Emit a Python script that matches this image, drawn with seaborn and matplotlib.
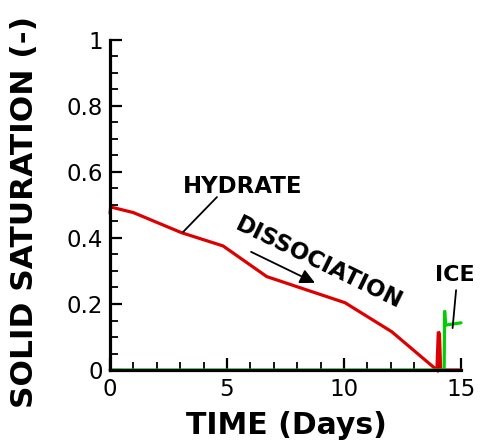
import matplotlib
matplotlib.use("Agg")
import matplotlib.pyplot as plt
from matplotlib.ticker import MultipleLocator
import numpy as np
import pandas as pd
import seaborn as sns

# Hydrate saturation over time (days)
hydrate_time = [0.0, 0.03, 1.0, 3.06, 4.83, 6.7, 10.04, 12.04, 13.97, 14.03, 14.08, 14.13, 15.0]
hydrate_sat = [0.475, 0.494, 0.477, 0.416, 0.376, 0.283, 0.204, 0.116, 0.0, 0.116, 0.11, 0.0, 0.0]

# Ice saturation over time (days)
ice_time = [0.0, 14.28, 14.30, 14.34, 15.0]
ice_sat = [0.0, 0.0, 0.18, 0.136, 0.143]

x_ticks = [0, 5, 10, 15]
y_ticks = [0, 0.2, 0.4, 0.6, 0.8, 1]
y_tick_labels = ["0", "0.2", "0.4", "0.6", "0.8", "1"]

df = pd.concat([
    pd.DataFrame({"time": hydrate_time, "sat": hydrate_sat, "phase": "HYDRATE"}),
    pd.DataFrame({"time": ice_time, "sat": ice_sat, "phase": "ICE"}),
], ignore_index=True)

sns.set_theme(style="ticks")
plt.rcParams["font.family"] = ["DejaVu Sans"]
plt.rcParams.update({
    "text.color": "black",
    "axes.labelcolor": "black",
    "xtick.color": "black",
    "ytick.color": "black",
})

fig = plt.figure(figsize=(4.82, 4.48), dpi=100)
ax = fig.add_axes([110 / 482, 78 / 448, 351 / 482, 330 / 448])

sns.lineplot(data=df, x="time", y="sat", hue="phase",
             palette={"HYDRATE": "#dd0000", "ICE": "#00d000"},
             estimator=None, sort=False, legend=False, linewidth=2.3, ax=ax)
for ln in ax.lines:
    ln.set_clip_on(False)
    ln.set_solid_joinstyle("miter")

ax.set_xlim(0, 15)
ax.set_ylim(0, 1)
ax.set_xticks(x_ticks)
ax.set_xticklabels([str(v) for v in x_ticks])
ax.set_yticks(y_ticks)
ax.set_yticklabels(y_tick_labels)
ax.xaxis.set_minor_locator(MultipleLocator(1))
ax.yaxis.set_minor_locator(MultipleLocator(0.05))

for side in ("top", "right"):
    ax.spines[side].set_visible(False)
for side in ("left", "bottom"):
    ax.spines[side].set_linewidth(2.3)
    ax.spines[side].set_color("black")

ax.tick_params(which="major", direction="in", length=8.5, width=1.6,
               color="black", labelsize=16.5, labelcolor="black")
ax.tick_params(which="minor", direction="in", length=5.5, width=1.3, color="black")
ax.tick_params(axis="x", which="major", pad=6)
ax.tick_params(axis="y", which="major", pad=5)

ax.set_xlabel("TIME (Days)", fontsize=21.5, fontweight="bold", va="center", color="black")
ax.set_ylabel("SOLID SATURATION (-)", fontsize=22.5, fontweight="bold", va="center", color="black")
ax.xaxis.set_label_coords(0.504, -0.168)
ax.yaxis.set_label_coords(-0.245, 0.479)

# Annotations
ax.text(5.68, 0.555, "HYDRATE", fontsize=16.5, fontweight="bold",
        ha="center", va="center", color="black")
ax.annotate("", xy=(3.12, 0.418), xytext=(4.57, 0.524),
            arrowprops=dict(arrowstyle="-", color="black", lw=1.3,
                            shrinkA=0, shrinkB=0))

ax.text(8.93, 0.324, "DISSOCIATION", fontsize=16.5, fontweight="bold",
        ha="center", va="center", rotation=-26, rotation_mode="anchor", color="black")
ax.annotate("", xy=(8.76, 0.264), xytext=(6.03, 0.358),
            arrowprops=dict(arrowstyle="-|>", color="black", lw=1.3,
                            mutation_scale=22, shrinkA=0, shrinkB=0))

ax.text(14.74, 0.288, "ICE", fontsize=16, fontweight="bold",
        ha="center", va="center", color="black")
ax.annotate("", xy=(14.64, 0.127), xytext=(14.79, 0.242),
            arrowprops=dict(arrowstyle="-", color="black", lw=1.3,
                            shrinkA=0, shrinkB=0))

fig.savefig("out.png", dpi=100, facecolor="white")
